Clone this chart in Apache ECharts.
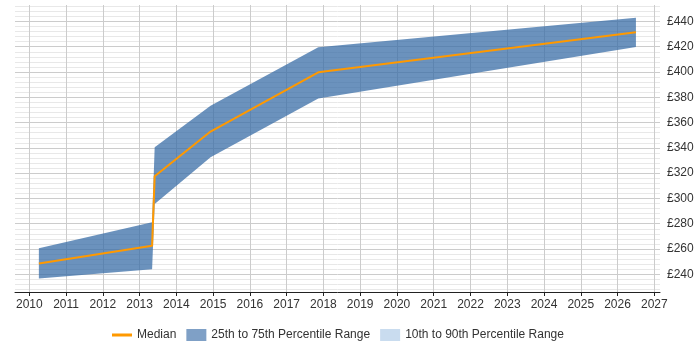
<!DOCTYPE html>
<html><head><meta charset="utf-8">
<script src="https://cdn.jsdelivr.net/npm/echarts@6/dist/echarts.min.js"></script>
<style>html,body{margin:0;padding:0;background:#fff}#c{width:700px;height:350px}</style>
</head><body><div id="c"></div>
<script>
const years = [2010.26, 2013.34, 2013.41, 2014.93, 2017.86, 2026.50];
const median = [248.5, 262.5, 317.5, 352.9, 399.8, 431.4];
const p25 = [236.7, 244.0, 295.7, 332.6, 379.0, 419.8];
const p75 = [260.6, 281.2, 340.5, 373.4, 419.5, 443.0];
const xTicks = [2010, 2011, 2012, 2013, 2014, 2015, 2016, 2017, 2018, 2019, 2020, 2021, 2022, 2023, 2024, 2025, 2026, 2027];
const yTicks = [240, 260, 280, 300, 320, 340, 360, 380, 400, 420, 440];
const yMinor = [228, 232, 236, 244, 248, 252, 256, 264, 268, 272, 276, 284, 288, 292, 296, 304, 308, 312, 316, 324, 328, 332, 336, 344, 348, 352, 356, 364, 368, 372, 376, 384, 388, 392, 396, 404, 408, 412, 416, 424, 428, 432, 436, 444, 448, 452];

const font = "'Liberation Sans', Arial, sans-serif";
const chart = echarts.init(document.getElementById('c'), null, {renderer: 'canvas'});
chart.setOption({
  animation: false,
  textStyle: {fontFamily: font},
  grid: {left: 15, right: 40, top: 5, bottom: 58, containLabel: false},
  xAxis: {
    type: 'value', min: 2009.611, max: 2027.155,
    axisLine: {show: true, lineStyle: {color: '#222', width: 1}},
    axisTick: {show: true, length: 4, customValues: xTicks, lineStyle: {color: '#222'}},
    axisLabel: {customValues: xTicks, formatter: v => String(v), color: '#333', fontSize: 12, fontFamily: font, margin: 7},
    splitLine: {show: true, lineStyle: {color: '#cccccc', width: 1}}
  },
  yAxis: [{
    type: 'value', min: 226, max: 453, position: 'right',
    axisLine: {show: false},
    axisTick: {show: false, customValues: yTicks},
    axisLabel: {customValues: yTicks, formatter: v => '£' + v, color: '#333', fontSize: 12, fontFamily: font, margin: 7},
    splitLine: {show: true, lineStyle: {color: '#cccccc', width: 1}}
  }, {
    type: 'value', min: 226, max: 453, position: 'right',
    axisLine: {show: false},
    axisTick: {show: false, customValues: yMinor},
    axisLabel: {show: false, customValues: yMinor},
    splitLine: {show: true, lineStyle: {color: '#e8e8e8', width: 1}}
  }],
  legend: {
    left: 107, top: 324, itemWidth: 20, itemHeight: 12, itemGap: 10,
    textStyle: {color: '#333', fontSize: 12, fontFamily: font},
    data: [
      {name: 'Median', icon: 'path://M0,0L0.01,0M0,4.5h20v3h-20zM20,12L19.99,12', itemStyle: {color: '#ff9900'}},
      {name: '25th to 75th Percentile Range', icon: 'rect'},
      {name: '10th to 90th Percentile Range', icon: 'rect'}
    ]
  },
  series: [
    {
      type: 'custom', name: '25th to 75th Percentile Range',
      itemStyle: {color: '#7fa0c6'},
      data: years.map((x, i) => [x, p25[i], p75[i]]),
      encode: {x: 0, y: [1, 2]},
      silent: true, z: 2,
      renderItem: (params, api) => {
        if (params.dataIndex !== 0) return;
        const pts = [];
        for (let i = 0; i < years.length; i++) pts.push(api.coord([years[i], p75[i]]));
        for (let i = years.length - 1; i >= 0; i--) pts.push(api.coord([years[i], p25[i]]));
        return {type: 'polygon', shape: {points: pts}, style: {fill: 'rgba(58,110,167,0.75)'}};
      }
    },
    {
      type: 'line', name: '10th to 90th Percentile Range', data: [],
      itemStyle: {color: '#c9dcef'}
    },
    {
      type: 'line', name: 'Median', z: 5,
      data: years.map((x, i) => [x, median[i]]),
      symbol: 'none', showSymbol: false,
      itemStyle: {color: '#ff9900'},
      lineStyle: {color: '#ff9900', width: 2}
    }
  ]
});
</script>
</body></html>
